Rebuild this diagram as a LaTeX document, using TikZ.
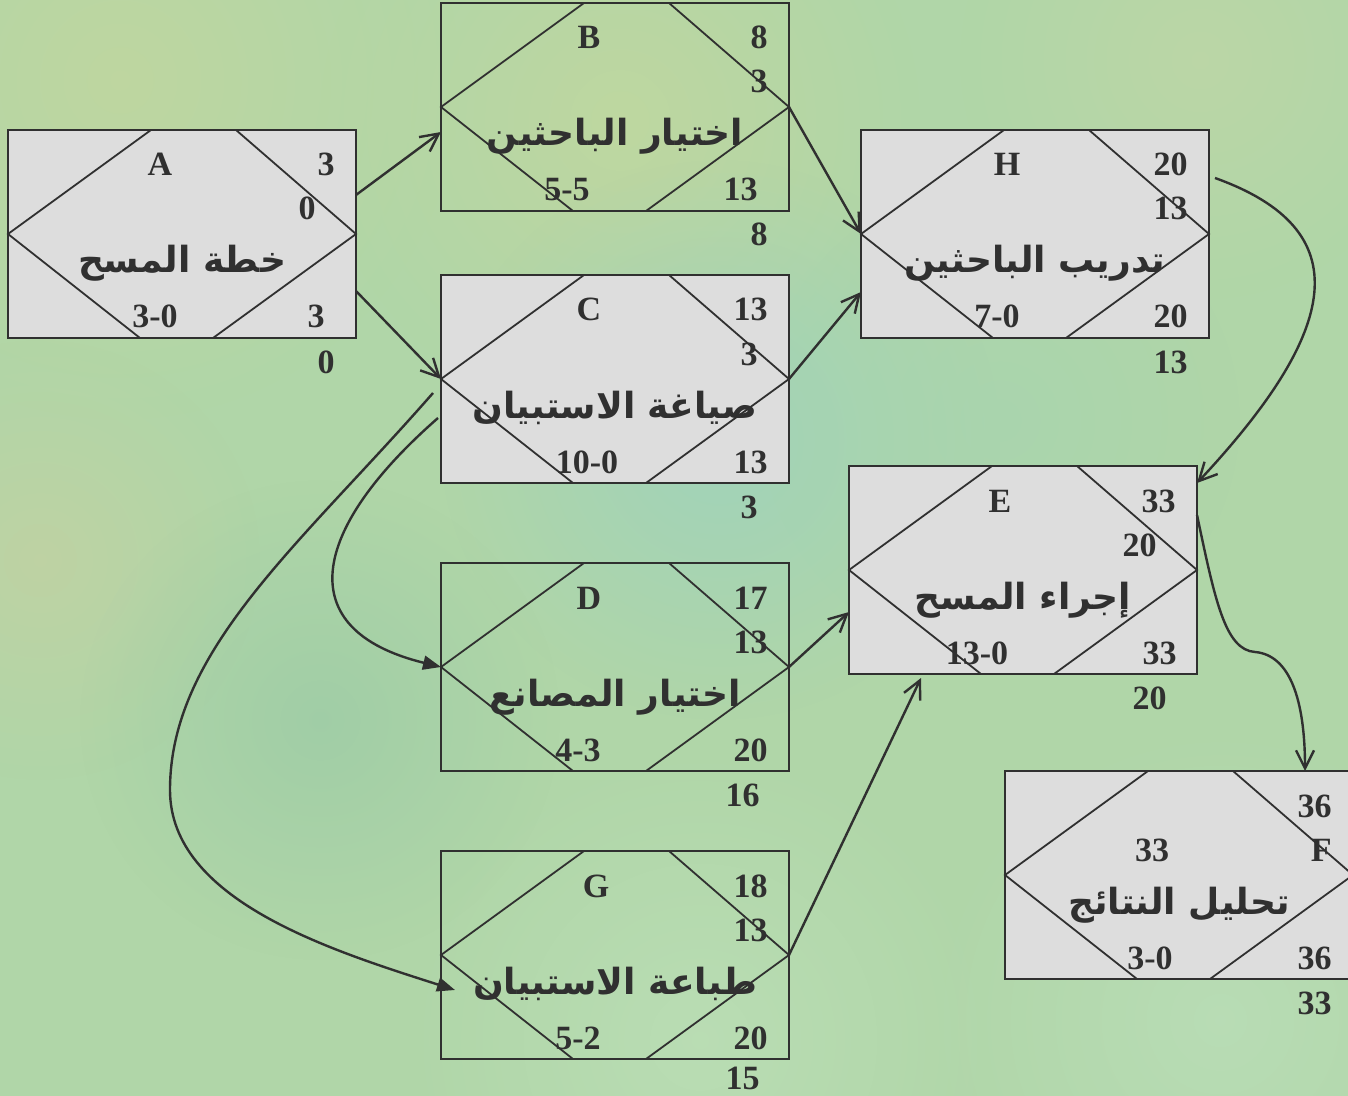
\documentclass[tikz,border=0pt]{standalone}
\usepackage{fontspec}
\setmainfont{Liberation Serif}
\newfontfamily\arabicfont[Script=Arabic]{DejaVu Sans}
\TeXXeTstate=1
\usetikzlibrary{arrows.meta,fadings}
\tikzfading[name=softblob, inner color=transparent!0, outer color=transparent!100]
\definecolor{bgbase}{RGB}{176,214,168}
\definecolor{ink}{RGB}{48,48,48}
\definecolor{boxgray}{RGB}{221,221,221}
\tikzset{
  boxst/.style={draw=ink, line width=1.4pt, rectangle, minimum width=174pt, minimum height=104pt, inner sep=0pt, outer sep=0pt},
  grayfill/.style={fill=boxgray},
  nofill/.style={},
  hexst/.style={draw=ink, line width=0.9pt},
  lat/.style={text=ink, font=\fontsize{17}{20}\selectfont\bfseries, inner sep=0pt},
  arlab/.style={text=ink, font=\arabicfont\fontsize{18}{21}\selectfont\bfseries, inner sep=0pt},
  arr/.style={draw=ink, line width=1.2pt, -{Straight Barb[length=9pt, width=9pt, line width=1.2pt]}},
  farr/.style={draw=ink, line width=1.2pt, -{Triangle[length=9pt, width=7pt]}},
  blob/.style={path fading=softblob, fill opacity=0.6}
}
% box: name, L, T, fill style
\newcommand\actbox[4]{%
  \node[boxst, #4, anchor=north west] (#1) at (#2,#3) {};
  \draw[hexst] (#1.west) -- (#2+143,#3) -- (#2+228,#3) -- (#1.east)
     -- (#2+205,#3+208) -- (#2+132,#3+208) -- cycle;
}
% top texts: name, letterdx, letter, topnum, secdx, sec
\newcommand\toptexts[6]{%
  \node[lat, anchor=base] (#1-let) at ([shift={(#2,46)}]#1.north west) {#3};
  \node[lat, anchor=base east] (#1-tr) at ([shift={(-21,46)}]#1.north east) {#4};
  \node[lat, anchor=base east] (#1-sec) at ([shift={(-#5,90)}]#1.north east) {#6};
}
% bottom texts: name, durdx, dur, brdx, br, bdx, below, belowdy
\newcommand\bottexts[8]{%
  \node[lat, anchor=base] (#1-dur) at ([shift={(#2,198)}]#1.north west) {#3};
  \node[lat, anchor=base east] (#1-br) at ([shift={(-#4,198)}]#1.north east) {#5};
  \node[lat, anchor=base east] (#1-bl) at ([shift={(-#6,#8)}]#1.north east) {#7};
}
\newcommand\actlabel[2]{%
  \node[arlab, anchor=base] (#1-lab) at ([shift={(174,143)}]#1.north west) {#2};
}
\begin{document}
\begin{tikzpicture}[x=0.5pt, y=-0.5pt]
\useasboundingbox (0,0) rectangle (1348,1096);
% background
\fill[bgbase] (0,0) rectangle (1348,1096);
\begin{scope}
\clip (0,0) rectangle (1348,1096);
\fill[blob, color={rgb,255:red,200;green,214;blue,155}] (120,80) circle (170pt);
\fill[blob, color={rgb,255:red,200;green,216;blue,155}] (620,120) circle (150pt);
\fill[blob, color={rgb,255:red,150;green,208;blue,198}] (720,440) circle (140pt);
\fill[blob, color={rgb,255:red,200;green,208;blue,160}] (40,560) circle (110pt);
\fill[blob, color={rgb,255:red,150;green,200;blue,165}] (320,720) circle (120pt);
\fill[blob, color={rgb,255:red,192;green,226;blue,188}] (700,1040) circle (150pt);
\fill[blob, color={rgb,255:red,190;green,225;blue,190}] (1220,1020) circle (150pt);
\fill[blob, color={rgb,255:red,165;green,212;blue,178}] (1000,420) circle (120pt);
\fill[blob, color={rgb,255:red,195;green,214;blue,165}] (1200,60) circle (120pt);
\end{scope}
% boxes
\actbox{A}{8}{130}{grayfill}
\actbox{B}{441}{3}{nofill}
\actbox{C}{441}{275}{grayfill}
\actbox{H}{861}{130}{grayfill}
\actbox{E}{849}{466}{grayfill}
\actbox{D}{441}{563}{nofill}
\actbox{G}{441}{851}{nofill}
\actbox{F}{1005}{771}{grayfill}
% texts
\toptexts{A}{152}{A}{3}{40}{0}
\bottexts{A}{147}{3-0}{31}{3}{21}{0}{243}
\actlabel{A}{\beginR خطة المسح\endR}
\toptexts{B}{148}{B}{8}{21}{3}
\bottexts{B}{126}{5-5}{31}{13}{21}{8}{243}
\actlabel{B}{\beginR اختيار الباحثين\endR}
\toptexts{C}{148}{C}{13}{31}{3}
\bottexts{C}{146}{10-0}{21}{13}{31}{3}{243}
\actlabel{C}{\beginR صياغة الاستبيان\endR}
\toptexts{H}{146}{H}{20}{21}{13}
\bottexts{H}{136}{7-0}{21}{20}{21}{13}{243}
\actlabel{H}{\beginR تدريب الباحثين\endR}
\toptexts{E}{151}{E}{33}{40}{20}
\bottexts{E}{128}{13-0}{20}{33}{30}{20}{243}
\actlabel{E}{\beginR إجراء المسح\endR}
\toptexts{D}{148}{D}{17}{21}{13}
\bottexts{D}{137}{4-3}{21}{20}{29}{16}{243}
\actlabel{D}{\beginR اختيار المصانع\endR}
\toptexts{G}{155}{G}{18}{21}{13}
\bottexts{G}{137}{5-2}{21}{20}{29}{15}{238}
\actlabel{G}{\beginR طباعة الاستبيان\endR}
\node[lat, anchor=base] (F-let) at ([shift={(147,90)}]F.north west) {33};
\node[lat, anchor=base east] (F-tr) at ([shift={(-21,46)}]F.north east) {36};
\node[lat, anchor=base east] (F-sec) at ([shift={(-21,90)}]F.north east) {F};
\bottexts{F}{145}{3-0}{21}{36}{21}{33}{243}
\actlabel{F}{\beginR تحليل النتائج\endR}
% connectors
\draw[arr] ([shift={(0,-39)}]A.east) -- ([shift={(0,25)}]B.west);
\draw[arr] ([shift={(0,57)}]A.east) -- (C.west);
\draw[arr] (B.east) -- (H.west);
\draw[arr] (C.east) -- ([shift={(0,58)}]H.west);
\draw[farr] ([shift={(-3,39)}]C.west) .. controls (310,530) and (290,630) .. (D.west);
\coordinate (cgmid) at (170,790);
\draw[farr] ([shift={(-8,14)}]C.west) .. controls (300,545) and (170,650) .. (cgmid)
   .. controls (170,900) and (330,950) .. ([shift={(14,35)}]G.west);
\draw[arr] (D.east) -- ([shift={(0,42)}]E.west);
\draw[arr] (G.east) -- ([shift={(72,4)}]E.south west);
\draw[arr] ([shift={(6,-56)}]H.east) .. controls (1360,230) and (1340,330) .. ([shift={(0,17)}]E.north east);
\coordinate (efmid) at (1255,652);
\draw[arr] ([shift={(0,-55)}]E.east) .. controls (1215,600) and (1225,650) .. (efmid)
   .. controls (1290,655) and (1305,700) .. ([shift={(300,0)}]F.north west);
\end{tikzpicture}
\end{document}
